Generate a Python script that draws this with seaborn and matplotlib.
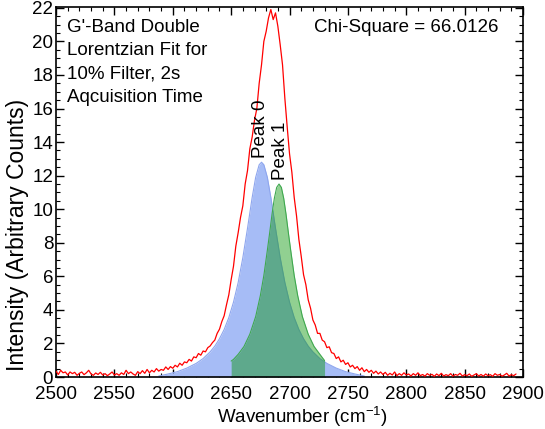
import numpy as np
import pandas as pd
import matplotlib.pyplot as plt
import seaborn as sns
from matplotlib.ticker import MultipleLocator

sns.set_theme(style="ticks")
plt.rcParams['font.family'] = ['Liberation Sans', 'DejaVu Sans']
plt.rcParams['mathtext.fontset'] = 'custom'
plt.rcParams['mathtext.rm'] = 'Liberation Sans'

# measured spectrum, one value every 2 cm^-1 starting at 2500
spec_start = 2500
spec_step = 2
spec_counts = [
    0.35, 0.15, 0.40, 0.25, 0.30, 0.12, 0.30, 0.20, 0.28, 0.10,
    0.22, 0.30, 0.14, 0.25, 0.40, 0.18, 0.10, 0.24, 0.15, 0.28,
    0.12, 0.20, 0.08, 0.18, 0.30, 0.12, 0.20, 0.10, 0.25, 0.15,
    0.40, 0.20, 0.30, 0.18, 0.10, 0.32, 0.20, 0.38, 0.22, 0.45,
    0.25, 0.40, 0.30, 0.50, 0.35, 0.45, 0.40, 0.60, 0.45, 0.62,
    0.52, 0.70, 0.60, 0.82, 0.70, 0.90, 0.85, 1.05, 0.95, 1.20,
    1.15, 1.40, 1.30, 1.55, 1.50, 1.75, 1.85, 2.05, 2.20, 2.60,
    2.85, 3.30, 3.65, 4.30, 4.90, 5.80, 6.60, 7.80, 8.60, 9.50,
    10.2, 11.5, 12.3, 13.6, 14.3, 15.3, 16.0, 17.5, 18.6, 20.0,
    20.6, 21.4, 21.9, 21.3, 21.7, 20.9, 19.8, 18.6, 16.6, 14.9,
    13.3, 12.2, 10.7, 9.60, 8.20, 7.20, 6.10, 5.50, 4.60, 4.10,
    3.40, 3.10, 2.60, 2.60, 2.20, 2.10, 1.75, 1.80, 1.45, 1.40,
    1.10, 1.20, 0.90, 1.00, 0.75, 0.85, 0.60, 0.70, 0.50, 0.62,
    0.40, 0.55, 0.32, 0.45, 0.28, 0.40, 0.22, 0.35, 0.18, 0.30,
    0.15, 0.28, 0.10, 0.22, 0.12, 0.30, 0.08, 0.20, 0.10, 0.25,
    0.12, 0.18, 0.06, 0.20, 0.10, 0.25, 0.08, 0.15, 0.05, 0.20,
    0.10, 0.16, 0.04, 0.18, 0.08, 0.22, 0.06, 0.14, 0.08, 0.20,
    0.05, 0.15, 0.10, 0.22, 0.06, 0.14, 0.08, 0.18, 0.04, 0.12,
    0.20, 0.06, 0.15, 0.05, 0.18, 0.08, 0.14, 0.04, 0.20, 0.10,
    0.15, 0.05, 0.12, 0.22, 0.06, 0.14, 0.08, 0.18,
]

# fitted peaks
peak0_x = [2588, 2596, 2604, 2612, 2620, 2626, 2632, 2636, 2640, 2644,
           2648, 2652, 2656, 2660, 2664, 2668, 2671, 2674, 2676, 2678,
           2681, 2684, 2688, 2692, 2696, 2700, 2704, 2708, 2712, 2716,
           2720, 2726, 2732, 2740, 2748, 2756, 2764]
peak0_y = [0.06, 0.18, 0.32, 0.53, 0.81, 1.10, 1.50, 1.84, 2.28, 2.83,
           3.54, 4.46, 5.63, 7.11, 8.86, 10.7, 11.9, 12.65, 12.8, 12.65,
           11.9, 10.7, 8.86, 7.11, 5.63, 4.46, 3.54, 2.83, 2.28, 1.84,
           1.50, 1.10, 0.81, 0.53, 0.32, 0.18, 0.06]

peak1_x = [2650, 2652, 2656, 2661, 2666, 2671, 2675, 2678, 2681, 2683,
           2685, 2687, 2689, 2691, 2693, 2695, 2697, 2699, 2701, 2704,
           2707, 2711, 2716, 2721, 2726, 2730]
peak1_y = [0.95, 1.05, 1.35, 1.82, 2.55, 3.60, 4.85, 6.05, 7.55, 8.60,
           9.70, 10.65, 11.3, 11.5, 11.3, 10.65, 9.70, 8.60, 7.55, 6.05,
           4.85, 3.60, 2.55, 1.82, 1.35, 0.98]

peak_names = ["Peak 0", "Peak 1"]
chi_square = 66.0126

spec = pd.DataFrame({
    "wavenumber": spec_start + spec_step * np.arange(len(spec_counts)),
    "counts": spec_counts,
})

fig = plt.figure(figsize=(5.45, 4.29), dpi=100)
ax = fig.add_axes([0.1028, 0.1212, 0.8569, 0.8625])

# peak areas
ax.fill_between(peak0_x, peak0_y, 0, color="#a6bcf6", lw=0, zorder=1)
sns.lineplot(x=peak0_x, y=peak0_y, ax=ax, color="#8ea6ee", lw=0.8, zorder=1.5)
ax.fill_between(peak1_x, peak1_y, 0, color="#009200", alpha=0.43, lw=0, zorder=2)
sns.lineplot(x=peak1_x, y=peak1_y, ax=ax, color="#3fa84f", lw=0.8, zorder=2.5)

# data
sns.lineplot(data=spec, x="wavenumber", y="counts", ax=ax, color="#ff0000",
             lw=0.9, zorder=3)

fs = 13.5
ax.text(0.0236, 0.968, "G'-Band Double\nLorentzian Fit for\n10% Filter, 2s\nAqcuisition Time",
        transform=ax.transAxes, ha="left", va="top", fontsize=fs,
        linespacing=1.5, color="black")
ax.text(0.9465, 0.968, f"Chi-Square = {chi_square}", transform=ax.transAxes,
        ha="right", va="top", fontsize=fs, color="black")

ax.text(peak0_x[int(np.argmax(peak0_y))] - 1, max(peak0_y) + 0.25, peak_names[0],
        rotation=90, ha="center", va="bottom", fontsize=fs, color="black")
ax.text(peak1_x[int(np.argmax(peak1_y))] + 1, max(peak1_y) + 0.25, peak_names[1],
        rotation=90, ha="center", va="bottom", fontsize=fs, color="black")

ax.set_xlim(2500, 2900)
ax.set_ylim(0, 22.05)
ax.xaxis.set_major_locator(MultipleLocator(50))
ax.xaxis.set_minor_locator(MultipleLocator(10))
ax.yaxis.set_major_locator(MultipleLocator(2))
ax.yaxis.set_minor_locator(MultipleLocator(0.5))

ax.tick_params(which="both", direction="in", top=True, right=True,
               color="black", labelsize=fs, labelcolor="black")
ax.tick_params(which="major", length=5.5, width=1.0)
ax.tick_params(which="minor", length=3, width=0.8)
ax.tick_params(axis="x", which="major", pad=6.5)
ax.tick_params(axis="y", which="major", pad=2)

for s in ax.spines.values():
    s.set_color("black")
    s.set_linewidth(1.2)

ax.set_xlabel("Wavenumber (cm$^{-1}$)", fontsize=13.5, color="black")
ax.set_ylabel("Intensity (Arbitrary Counts)", fontsize=16.5, color="black")
ax.xaxis.set_label_coords(0.527, -0.073)
ax.yaxis.set_label_coords(-0.058, 0.384)

fig.savefig("out.png", dpi=100)
